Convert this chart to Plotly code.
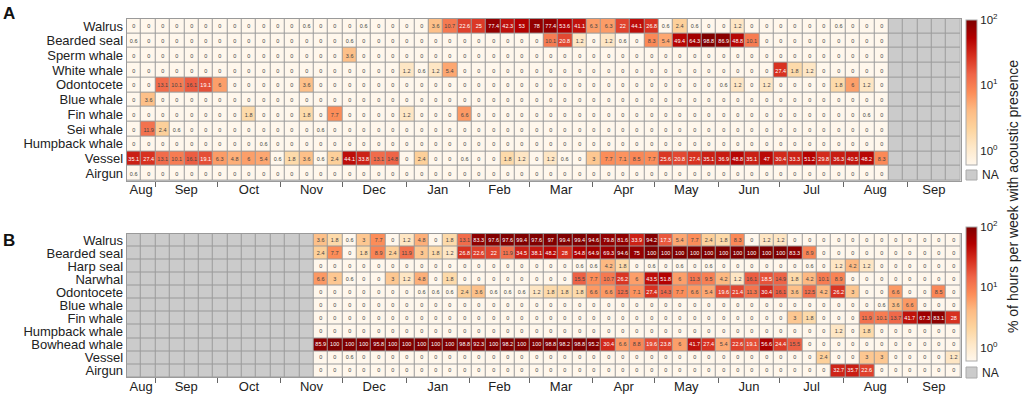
import numpy as np
import pandas as pd
import plotly.graph_objects as go
import plotly.colors as pc

# ---------------- categories ----------------
species_A = ["Walrus", "Bearded seal", "Sperm whale", "White whale", "Odontocete",
             "Blue whale", "Fin whale", "Sei whale", "Humpback whale", "Vessel", "Airgun"]
species_B = ["Walrus", "Bearded seal", "Harp seal", "Narwhal", "Odontocete",
             "Blue whale", "Fin whale", "Humpback whale", "Bowhead whale", "Vessel", "Airgun"]
month_labels = ["Aug", "Sep", "Oct", "Nov", "Dec", "Jan", "Feb", "Mar",
                "Apr", "May", "Jun", "Jul", "Aug", "Sep"]

# ---------------- panel A: 53 recorded weeks, then 5 NA weeks ----------------
walrus_A = [0, 0, 0, 0, 0, 0, 0, 0, 0, 0, 0, 0, 0.6, 0, 0,
            0, 0.6, 0, 0, 0, 0, 3.6, 10.7, 22.6, 25, 77.4, 42.3, 53, 78, 77.4, 53.6, 41.1, 6.3, 6.3, 22, 44.1, 26.8,
            0.6, 2.4, 0.6, 0, 0, 1.2, 0, 0, 0, 0, 0, 0, 0.6, 0, 0, 0]
bearded_A = [0.6, 0, 0, 0, 0, 0, 0, 0, 0, 0, 0, 0, 0, 0, 0,
             0.6, 0, 0, 0, 0, 0, 0, 0, 0, 0, 0, 0, 0, 0, 10.1, 20.8, 1.2, 0, 1.2, 0.6, 0, 8.3,
             5.4, 49.4, 64.3, 98.8, 86.9, 48.8, 10.1, 0, 0, 0, 0, 0, 0, 0, 0, 0]
sperm_A = [0, 0, 0, 0, 0, 0, 0, 0, 0, 0, 0, 0, 0, 0, 0,
           3.6, 0, 0, 0, 0, 0, 0, 0, 0, 0, 0, 0, 0, 0, 0, 0, 0, 0, 0, 0, 0, 0,
           0, 0, 0, 0, 0, 0, 0, 0, 0, 0, 0, 0, 0, 0, 0, 0]
white_A = [0, 0, 0, 0, 0, 0, 0, 0, 0, 0, 0, 0, 0, 0, 0,
           0, 0, 0, 0, 1.2, 0.6, 1.2, 5.4, 0, 0, 0, 0, 0, 0, 0, 0, 0, 0, 0, 0, 0, 0,
           0, 0, 0, 0, 0, 0, 0, 0, 27.4, 1.8, 1.2, 0, 0, 0, 0, 0]
odonto_A = [0, 0, 13.1, 10.1, 16.1, 19.1, 6, 0, 0, 0, 0, 0, 3.6, 0, 0,
            0, 0, 0, 0, 0, 0, 0, 0, 0, 0, 0, 0, 0, 0, 0, 0, 0, 0, 0, 0, 0, 0,
            0, 0, 0, 0, 0.6, 1.2, 0, 1.2, 0, 0, 0, 0, 1.8, 6, 1.2, 0]
blue_A = [0, 3.6, 0, 0, 0, 0, 0, 0, 0, 0, 0, 0, 0, 0, 0,
          0, 0, 0, 0, 0, 0, 0, 0, 0, 0, 0, 0, 0, 0, 0, 0, 0, 0, 0, 0, 0, 0,
          0, 0, 0, 0, 0, 0, 0, 0, 0, 0, 0, 0, 0, 0, 0, 0]
fin_A = [0, 0, 0, 0, 0, 0, 0, 0, 1.8, 0, 0, 0, 1.8, 0, 7.7,
         0, 0, 0, 0, 1.2, 0, 0, 0, 6.6, 0, 0, 0, 0, 0, 0, 0, 0, 0, 0, 0, 0, 0,
         0, 0, 0, 0, 0, 0, 0, 0, 0, 0, 0, 0, 0, 0, 0.6, 0]
sei_A = [0, 11.9, 2.4, 0.6, 0, 0, 0, 0, 0, 0, 0, 0, 0, 0.6, 0,
         0, 0, 0, 0, 0, 0, 0, 0, 0, 0, 0, 0, 0, 0, 0, 0, 0, 0, 0, 0, 0, 0,
         0, 0, 0, 0, 0, 0, 0, 0, 0, 0, 0, 0, 0, 0, 0, 0]
humpback_A = [0, 0, 0, 0, 0, 0, 0, 0, 0, 0.6, 0, 0, 0, 0, 0,
              0, 0, 0, 0, 0, 0, 0, 0, 0, 0, 0, 0, 0, 0, 0, 0, 0, 0, 0, 0, 0, 0,
              0, 0, 0, 0, 0, 0, 0, 0, 0, 0, 0, 0, 0, 0, 0, 0]
vessel_A = [35.1, 27.4, 13.1, 10.1, 16.1, 19.1, 6.3, 4.8, 6, 5.4, 0.6, 1.8, 3.6, 0.6, 2.4,
            44.1, 33.8, 13.1, 14.8, 0, 2.4, 0, 0, 0.6, 0, 0, 1.8, 1.2, 0, 1.2, 0.6, 0, 3, 7.7, 7.1, 8.5, 7.7,
            25.6, 20.8, 27.4, 35.1, 36.9, 48.8, 35.1, 47, 30.4, 33.3, 51.2, 29.8, 36.3, 40.5, 48.2, 8.3]
airgun_A = [0.6, 0, 0, 0, 0, 0, 0, 0, 0, 0, 0, 0, 0, 0, 0,
            0, 0, 0, 0, 0, 0, 0, 0, 0, 0, 0, 0, 0, 0, 0, 0, 0, 0, 0, 0, 0, 0,
            0, 0, 0, 0, 0, 0, 0, 0, 0, 0, 0, 0, 0, 0, 0, 0]
na_tail_A = [None, None, None, None, None]

# ---------------- panel B: 13 NA weeks, then 45 recorded weeks ----------------
na_head_B = [None, None, None, None, None, None, None, None, None, None, None, None, None]
walrus_B = [3.6, 1.8, 0.6, 3, 7.7, 0, 1.2, 4.8, 0, 1.8, 13.1, 83.3, 97.6, 97.6, 99.4, 97.6,
            97, 99.4, 99.4, 94.6, 79.8, 81.6, 33.9, 94.2, 17.3, 5.4, 7.7, 2.4, 1.8, 8.3, 0, 1.2, 1.2, 0,
            0, 0, 0, 0, 0, 0, 0, 0, 0, 0, 0]
bearded_B = [2.4, 7.7, 0, 1.8, 8.9, 2.4, 11.9, 3, 1.8, 1.2, 26.8, 22.6, 22, 11.9, 34.5, 38.1,
             48.2, 28, 54.8, 64.9, 69.3, 94.6, 75, 100, 100, 100, 100, 100, 100, 100, 100, 100, 100, 83.3,
             8.9, 0, 0, 0, 0, 0, 0, 0, 0, 0, 0]
harp_B = [0, 0, 0, 0, 0, 0, 0, 0, 0, 0, 0, 0, 0, 0, 0, 0,
          0, 0, 0.6, 0.6, 4.2, 1.8, 0, 0.6, 0, 0.6, 0, 0.6, 0, 0, 0, 0, 0, 0,
          0.6, 0, 1.2, 4.2, 1.2, 0, 0, 0, 0, 0, 0]
narwhal_B = [6.6, 3, 0.6, 0, 0, 3, 1.2, 4.8, 0, 1.8, 0, 0, 0, 0, 0, 0,
             0, 0, 15.5, 7.7, 10.7, 26.2, 6, 43.5, 51.8, 6, 11.3, 9.5, 4.2, 1.2, 16.1, 18.5, 14.9, 1.8,
             4.2, 10.1, 8.9, 0, 0, 0, 0, 0, 0, 0, 0]
odonto_B = [0, 0, 0, 0, 0, 0, 0, 0.6, 0.6, 0.6, 2.4, 3.6, 0.6, 0.6, 0.6, 1.2,
            1.8, 1.8, 1.8, 6.6, 6.6, 12.5, 7.1, 27.4, 14.3, 7.7, 6.6, 5.4, 19.6, 21.4, 11.3, 30.4, 16.1, 3.6,
            12.5, 4.2, 26.2, 3, 0, 0, 6.6, 0, 0, 8.5, 0]
blue_B = [0, 0, 0, 0, 0, 0, 0, 0, 0, 0, 0, 0, 0, 0, 0, 0,
          0, 0, 0, 0, 0, 0, 0, 0, 0, 0, 0, 0, 0, 0, 0, 0, 0, 0,
          0, 0, 0, 0, 0, 0.6, 3.6, 6.6, 0, 0, 0]
fin_B = [0, 0, 0, 0, 0, 0, 0, 0, 0, 0, 0, 0, 0, 0, 0, 0,
         0, 0, 0, 0, 0, 0, 0, 0, 0, 0, 0, 0, 0, 0, 0, 0, 0, 3,
         1.8, 0, 0, 0, 11.9, 10.1, 13.7, 41.7, 67.3, 83.1, 28]
humpback_B = [0, 0, 0, 0, 0, 0, 0, 0, 0, 0, 0, 0, 0, 0, 0, 0,
              0, 0, 0, 0, 0, 0, 0, 0, 0, 0, 0, 0, 0, 0, 0, 0, 0, 0,
              0, 0, 1.2, 0, 1.8, 0, 0, 0, 0, 0, 0]
bowhead_B = [85.9, 100, 100, 100, 95.8, 100, 100, 100, 100, 100, 98.8, 92.3, 100, 98.2, 100, 100,
             98.8, 98.2, 98.8, 95.2, 30.4, 6.6, 8.8, 19.6, 23.8, 6, 41.7, 27.4, 5.4, 22.6, 19.1, 56.6, 24.4, 15.5,
             0, 0, 0, 0, 0, 0, 0, 0, 0, 0, 0]
vessel_B = [0, 0, 0.6, 0, 0, 0, 0, 0, 0, 0, 0, 0, 0, 0, 0, 0,
            0, 0, 0, 0, 0, 0, 0, 0, 0, 0, 0, 0, 0, 0, 0, 0, 0, 0,
            0, 2.4, 0, 0, 3, 3, 0, 0, 0, 0, 1.2]
airgun_B = [0, 0, 0, 0, 0, 0, 0, 0, 0, 0, 0, 0, 0, 0, 0, 0,
            0, 0, 0, 0, 0, 0, 0, 0, 0, 0, 0, 0, 0, 0, 0, 0, 0, 0,
            0, 0, 32.7, 35.7, 22.6, 0, 0, 0, 0, 0, 0]

rows_A = [r + na_tail_A for r in [walrus_A, bearded_A, sperm_A, white_A, odonto_A, blue_A,
                                  fin_A, sei_A, humpback_A, vessel_A, airgun_A]]
rows_B = [na_head_B + r for r in [walrus_B, bearded_B, harp_B, narwhal_B, odonto_B, blue_B,
                                  fin_B, humpback_B, bowhead_B, vessel_B, airgun_B]]
for r in rows_A + rows_B:
    assert len(r) == 58, len(r)

# ---------------- time axis (weeks from 18 Aug 2019) ----------------
N_WEEKS = 58
start = pd.Timestamp("2019-08-18")
bounds = pd.date_range("2019-09-01", "2020-09-01", freq="MS")
bound_pos = [(b - start).days / 7 for b in bounds]
edges = [0] + bound_pos + [N_WEEKS]
label_pos = [(a + b) / 2 for a, b in zip(edges[:-1], edges[1:])]

FONT = "Liberation Sans, Arial, Helvetica, sans-serif"
GRID = "#9a9a9a"
NA_COL = "#cbcbcb"
VMIN = 0.6


def fmt(v):
    if v is None:
        return ""
    return str(int(v)) if float(v).is_integer() else str(v)


def panel(rows, xa, ya, cax):
    xs = np.arange(N_WEEKS) + 0.5
    ys = np.arange(len(rows))
    z = [[None if v is None else float(np.log10(max(v, VMIN))) for v in r] for r in rows]
    txt = [[fmt(v) for v in r] for r in rows]
    na = [[1 if v is None else None for v in r] for r in rows]
    t_na = go.Heatmap(z=na, x=xs, y=ys, colorscale=[[0, NA_COL], [1, NA_COL]], showscale=False,
                      xgap=1, ygap=1, xaxis=xa, yaxis=ya, hoverinfo="skip")
    t = go.Heatmap(z=z, x=xs, y=ys, text=txt, texttemplate="%{text}",
                   textfont=dict(size=5.5, family=FONT), coloraxis=cax,
                   xgap=1, ygap=1, xaxis=xa, yaxis=ya, hoverongaps=False,
                   customdata=rows, hovertemplate="%{customdata}<extra></extra>")
    return [t_na, t]


fig = go.Figure()
for tr in panel(rows_A, "x", "y", "coloraxis") + panel(rows_B, "x2", "y2", "coloraxis2"):
    fig.add_trace(tr)

W, H = 1024, 397
x_dom = [126.7 / W, 960.5 / W]
yA = [1 - 180.7 / H, 1 - 18.6 / H]
yB = [1 - 377.2 / H, 1 - 233.5 / H]


def xaxis(anchor):
    return dict(domain=x_dom, anchor=anchor, range=[0, N_WEEKS], showgrid=False, zeroline=False,
                tickmode="array", tickvals=label_pos, ticktext=month_labels, ticks="",
                ticklabelstandoff=-3,
                tickfont=dict(size=13, color="#222", family=FONT),
                minor=dict(tickmode="array", tickvals=bound_pos, ticks="outside", ticklen=5,
                           tickwidth=1, tickcolor="#666", showgrid=False),
                showline=True, mirror=True, linecolor=GRID, linewidth=1, automargin=False,
                fixedrange=True)


def yaxis(anchor, dom, names):
    return dict(domain=dom, anchor=anchor, range=[len(names) - 0.5, -0.5], showgrid=False,
                zeroline=False, tickmode="array", tickvals=list(range(len(names))), ticktext=names,
                ticks="", tickfont=dict(size=13, color="#222", family=FONT),
                showline=True, mirror=True, linecolor=GRID, linewidth=1, automargin=False,
                fixedrange=True)


scale = pc.sequential.OrRd


def cbar(ycenter, length):
    return dict(x=965.7 / W, xanchor="left", y=ycenter, yanchor="middle", len=length,
                lenmode="pixels", thickness=11, thicknessmode="pixels", outlinewidth=1,
                outlinecolor="#aaa", tickmode="array", tickvals=[0, 1, 2],
                ticktext=["10<sup>0</sup>", "10<sup>1</sup>", "10<sup>2</sup>"], ticks="",
                tickfont=dict(size=11.5, color="#222", family=FONT), xpad=0, ypad=0)


fig.update_layout(
    width=W, height=H, margin=dict(l=0, r=0, t=0, b=0),
    paper_bgcolor="white", plot_bgcolor=GRID,
    font=dict(family=FONT, color="#222"),
    xaxis=xaxis("y"), yaxis=yaxis("x", yA, species_A),
    xaxis2=xaxis("y2"), yaxis2=yaxis("x2", yB, species_B),
    coloraxis=dict(colorscale=scale, cmin=np.log10(VMIN), cmax=2,
                   colorbar=cbar(1 - 92.5 / H, 145)),
    coloraxis2=dict(colorscale=scale, cmin=np.log10(VMIN), cmax=2,
                    colorbar=cbar(1 - 294 / H, 134)),
    showlegend=False,
)

# NA legend boxes
for ytop, ybot in [(170, 180), (367, 378)]:
    fig.add_shape(type="rect", xref="paper", yref="paper",
                  x0=966 / W, x1=977 / W, y0=1 - ybot / H, y1=1 - ytop / H,
                  fillcolor=NA_COL, line=dict(color="#aaa", width=1))
    fig.add_annotation(xref="paper", yref="paper", x=980 / W, y=1 - (ytop + ybot) / 2 / H,
                       text="NA", showarrow=False, xanchor="left", yanchor="middle",
                       font=dict(size=12, color="#222", family=FONT))

# panel letters
for letter, yc in [("A", 13.5), ("B", 240)]:
    fig.add_annotation(xref="paper", yref="paper", x=1 / W, y=1 - yc / H, text=f"<b>{letter}</b>",
                       showarrow=False, xanchor="left", yanchor="middle",
                       font=dict(size=17, color="#111", family=FONT))

# colour-bar title
fig.add_annotation(xref="paper", yref="paper", x=1013 / W, y=1 - 197 / H,
                   text="% of hours per week with acoustic presence", textangle=-90,
                   showarrow=False, xanchor="center", yanchor="middle",
                   font=dict(size=14, color="#222", family=FONT))

fig.write_html("out.html", config={"displayModeBar": False},
               post_script="document.body.style.margin='0px';document.body.style.overflow='hidden';")
